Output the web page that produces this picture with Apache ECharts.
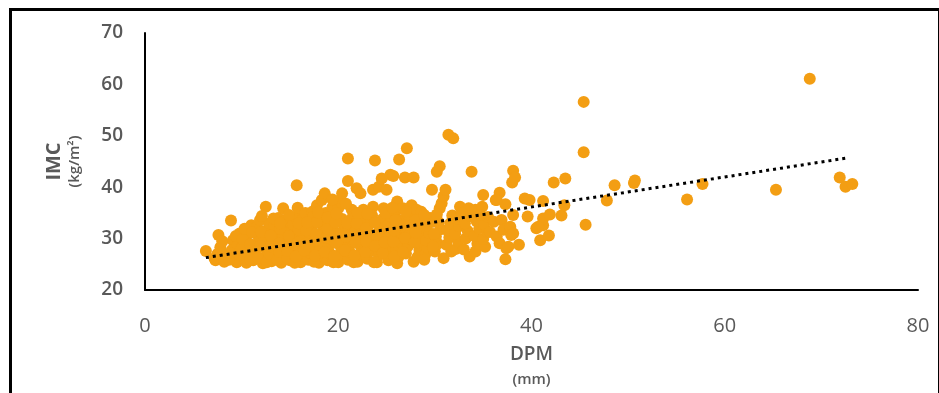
<!DOCTYPE html>
<html>
<head>
<meta charset="utf-8">
<script src="https://cdn.jsdelivr.net/npm/echarts@6/dist/echarts.min.js"></script>
<style>
  html, body { margin: 0; padding: 0; background: #fff; }
  #chart { width: 939px; height: 393px; }
</style>
</head>
<body>
<div id="chart"></div>
<script>
// DPM (mm) vs IMC (kg/m2)
var dpmImc = [
  // x 6-10
  [6.3,27.6],[7.3,25.8],[7.2,26.2],[7.5,27.0],[7.8,28.3],[7.6,30.7],[8.2,25.5],[8.4,26.8],[8.0,29.5],
  [8.9,33.5],[9.1,29.7],[9.0,27.8],[9.3,26.0],[9.5,25.4],[9.6,28.6],[9.8,31.0],
  [10.4,29.4],[10.2,26.5],[10.5,25.3],[10.8,27.6],[10.6,30.8],[11.0,32.6],[11.2,25.8],[11.5,28.8],
  [11.6,32.3],[11.9,33.6],[11.4,27.0],[11.8,30.0],
  // x 12-14
  [12.5,36.2],[12.2,25.2],[12.4,26.4],[12.6,27.8],[12.8,29.2],[12.3,30.6],[12.7,31.8],[12.9,33.0],
  [13.1,25.6],[13.3,26.9],[13.5,28.3],[13.2,29.8],[13.6,31.2],[13.4,32.6],[13.8,34.0],
  [14.3,35.9],[14.1,25.3],[14.2,26.6],[14.4,28.0],[14.6,29.4],[14.3,30.8],[14.8,32.2],[14.5,33.5],
  [15.0,25.8],[15.2,27.2],[15.4,28.6],[15.1,30.0],[15.5,31.4],[15.3,32.8],[15.6,34.2],[15.7,40.4],[15.8,36.0],
  // x 16-19
  [16.1,25.4],[16.3,26.7],[16.0,28.1],[16.4,29.5],[16.2,30.9],[16.5,32.3],[16.3,33.7],[16.6,35.0],
  [16.9,25.9],[17.0,27.3],[17.2,28.7],[17.1,30.1],[17.3,31.5],[17.0,32.9],[17.3,35.2],[17.4,34.2],[17.8,36.5],
  [18.0,25.3],[18.2,26.6],[18.1,28.0],[18.4,29.4],[18.2,30.8],[18.5,32.2],[18.3,33.6],[18.3,37.5],
  [18.6,38.8],[18.7,35.0],[18.9,25.8],[19.1,27.2],[19.0,28.6],[19.2,30.0],[19.0,31.4],[19.3,32.8],
  [19.1,34.2],[19.4,36.1],
  // x 20-23
  [20.0,35.9],[20.2,37.2],[20.4,38.8],[20.0,25.4],[20.1,26.8],[20.3,28.2],[20.5,29.6],[20.2,31.0],
  [20.6,32.4],[20.4,33.8],[21.0,25.9],[21.2,27.3],[21.1,28.7],[21.3,30.1],[21.0,31.5],[21.4,35.6],
  [21.2,32.9],[21.0,41.2],[21.0,45.6],[21.9,39.8],[21.5,34.2],
  [22.3,38.8],[22.6,35.6],[22.0,25.5],[22.2,26.9],[22.4,28.3],[22.1,29.7],[22.5,31.1],[22.3,32.5],
  [22.7,33.9],[23.0,26.1],[23.2,27.5],[23.1,28.9],[23.3,30.3],[23.0,31.7],[23.4,33.1],[23.6,36.2],
  [23.6,39.5],[23.8,45.2],[23.5,34.5],
  // x 24-27
  [24.2,40.1],[24.5,41.7],[24.7,35.9],[24.0,25.4],[24.2,26.8],[24.4,28.2],[24.1,29.6],[24.5,31.0],
  [24.3,32.4],[24.6,33.8],[25.0,39.5],[25.4,42.4],[25.7,42.2],[25.2,25.8],[25.0,27.2],[25.3,28.6],
  [25.1,30.0],[25.4,31.4],[25.2,32.8],[25.5,34.2],
  [26.1,35.6],[26.1,37.2],[26.3,45.4],[26.7,35.9],[26.9,41.9],[26.1,25.2],[26.3,26.6],[26.0,28.0],
  [26.4,29.4],[26.2,30.8],[26.5,32.2],[26.3,33.6],[27.1,47.6],[27.6,36.5],[27.8,41.9],[27.8,25.5],
  [27.0,27.1],[27.2,28.5],[27.4,30.0],[27.1,31.4],[27.5,32.8],[27.3,34.2],
  // x 28-31
  [28.1,35.6],[28.6,35.2],[28.2,26.4],[28.4,27.8],[28.1,29.2],[28.5,30.6],[28.3,32.0],[28.7,33.4],
  [29.0,26.9],[29.2,28.3],[29.1,29.7],[29.4,31.1],[29.2,32.5],[29.7,39.5],[29.5,34.0],
  [30.5,44.1],[30.2,43.0],[30.5,35.9],[30.7,36.9],[30.9,38.2],[31.1,39.5],[30.9,26.2],[30.0,27.5],
  [30.3,29.0],[30.1,30.4],[30.6,31.8],[30.4,33.2],[31.4,50.2],[31.9,49.5],[31.7,27.5],[31.2,28.8],
  [31.5,30.2],[31.3,31.6],[31.6,33.0],[31.8,34.5],
  // x 32-38
  [32.6,36.2],[32.2,28.0],[32.4,29.5],[32.1,31.0],[32.5,32.4],[32.3,33.8],[33.5,35.9],[33.6,26.5],
  [33.0,27.9],[33.2,30.0],[33.4,31.5],[33.1,33.0],[33.8,43.0],[33.7,34.4],
  [34.2,35.6],[34.9,36.2],[34.2,27.5],[34.4,29.0],[34.1,30.5],[34.6,32.0],[34.3,33.4],[35.0,38.5],
  [35.2,28.4],[35.0,29.9],[35.4,31.4],[35.1,32.8],[35.5,34.2],[35.7,31.3],[36.1,33.3],[36.3,37.5],
  [36.4,30.4],[36.7,38.9],[36.7,29.1],[36.9,33.6],[37.1,31.7],[37.3,36.7],[37.3,26.0],[37.4,28.1],
  [37.6,28.4],[37.8,32.0],[37.9,30.7],[37.8,32.3],[38.0,40.9],[38.1,43.2],[38.3,41.9],[38.1,34.6],
  [38.1,31.0],[38.7,28.8],[36.4,37.5],
  // x 39-44
  [39.3,37.8],[39.8,37.5],[39.6,34.3],[40.5,32.0],[40.9,29.7],[41.2,32.6],[41.2,33.9],[40.7,32.3],
  [41.8,30.6],[41.2,37.3],[41.9,34.7],[42.3,40.9],[43.1,34.5],[43.4,36.5],[43.5,41.7],
  // outliers
  [45.4,56.6],[45.4,46.8],[45.6,32.7],[47.8,37.4],[48.6,40.4],[50.6,40.8],[50.7,41.3],[56.1,37.6],
  [57.7,40.6],[65.3,39.5],[68.8,61.1],[71.9,41.9],[72.5,40.1],[73.2,40.6],
  // dense core, in between the points above
  [8.7,25.9],[8.8,27.2],[9.4,30.5],[9.9,26.9],[10.0,28.1],[10.1,29.9],[10.3,31.9],[10.9,25.9],
  [10.9,28.9],[11.1,31.2],[11.7,26.3],[11.9,28.5],[12.0,31.3],[12.1,34.4],[12.6,25.4],[12.9,27.0],
  [13.0,28.5],[13.0,30.6],[13.3,33.9],[13.7,25.9],[13.9,27.4],[13.9,29.1],[14.0,31.9],[14.0,33.0],
  [14.7,26.2],[14.7,27.6],[14.9,30.5],[14.9,34.6],[15.5,25.3],[15.6,26.5],[15.8,29.2],[15.9,31.7],
  [15.9,33.0],[16.5,27.7],[16.7,29.0],[16.7,31.6],[16.8,33.2],[17.5,25.5],[17.6,26.7],[17.6,29.6],
  [17.7,30.9],[17.8,33.2],[17.9,35.1],[18.6,27.4],[18.8,30.2],[18.9,31.9],[18.9,34.1],[19.5,25.4],
  [19.6,26.6],[19.7,29.2],[19.8,31.0],[19.7,33.1],[19.8,34.9],[20.7,27.7],[20.8,30.4],[20.9,33.0],
  [20.8,36.8],[21.6,25.4],[21.7,26.7],[21.8,29.2],[21.7,31.2],[21.9,33.0],[22.0,35.0],[22.8,27.4],
  [22.9,29.5],[22.9,32.0],[23.0,34.8],[23.7,25.4],[23.8,28.6],[23.9,30.8],[23.8,33.1],[24.6,27.2],
  [24.8,29.3],[24.9,32.3],[25.8,26.5],[25.7,29.4],[25.8,31.6],[25.9,33.6],[26.7,27.4],[26.9,30.1],
  [26.8,32.6],[27.9,29.3],[28.0,31.2],[28.0,33.6],[28.9,25.9],[29.8,28.4],[29.9,30.9],[29.9,33.3],
  [24.9,35.0],[25.6,36.0],[27.0,35.3],[28.9,34.6],[32.8,35.0],[34.7,34.6],[30.2,34.7],[19.4,37.6]
];

// linear trend line end points
var trendDpm = [6.3, 72.7];
var trendImc = [26.3, 45.7];

var xTicks = [0, 20, 40, 60, 80];
var yTicks = [20, 30, 40, 50, 60, 70];

var voChart = echarts.init(document.getElementById("chart"));

var vaTrend = trendDpm.map(function(x, i){
	return [x, trendImc[i]];
});

var voOption = {
	animation: false,
	backgroundColor: "#fff",
	grid: {
		left: 145,
		right: 21,
		top: 33,
		bottom: 103
	},
	xAxis: {
		type: "value",
		min: xTicks[0],
		max: xTicks[xTicks.length - 1],
		interval: 20,
		name: "{a|DPM}\n{b|(mm)}",
		nameLocation: "middle",
		nameGap: 52,
		nameTextStyle: {
			rich: {
				a: { fontFamily: "Open Sans", fontSize: 19, fontWeight: 600, color: "#595959", lineHeight: 26 },
				b: { fontFamily: "Open Sans", fontSize: 15, fontWeight: 600, color: "#595959", lineHeight: 24 }
			}
		},
		axisLine: { lineStyle: { color: "#000", width: 2 } },
		axisTick: { show: false },
		splitLine: { show: false },
		axisLabel: {
			margin: 26,
			fontFamily: "Open Sans",
			fontSize: 20,
			color: "#595959"
		}
	},
	yAxis: {
		type: "value",
		min: yTicks[0],
		max: yTicks[yTicks.length - 1],
		interval: 10,
		name: "{a|IMC}\n{b|(kg/m²)}",
		nameLocation: "middle",
		nameRotate: 90,
		nameGap: 60,
		nameTextStyle: {
			rich: {
				a: { fontFamily: "Open Sans", fontSize: 20, fontWeight: 700, color: "#595959", lineHeight: 22 },
				b: { fontFamily: "Open Sans", fontSize: 15, fontWeight: 600, color: "#595959", lineHeight: 20 }
			}
		},
		axisLine: { show: true, lineStyle: { color: "#000", width: 2 } },
		axisTick: { show: false },
		splitLine: { show: false },
		axisLabel: {
			margin: 22,
			fontFamily: "Open Sans",
			fontSize: 19,
			fontWeight: 600,
			color: "#595959"
		}
	},
	graphic: [{
		type: "rect",
		left: 8,
		top: 7,
		shape: { width: 929, height: 420 },
		style: { fill: "none", stroke: "#000", lineWidth: 3 },
		silent: true
	}],
	series: [
		{
			name: "IMC",
			type: "scatter",
			symbolSize: 12,
			itemStyle: { color: "#F39E13", opacity: 1 },
			data: dpmImc
		},
		{
			name: "trend",
			type: "line",
			symbol: "none",
			lineStyle: { color: "#000", width: 3, type: [3, 4] },
			data: vaTrend,
			z: 3
		}
	]
};

voChart.setOption(voOption);

window.addEventListener("resize", function(){
	voChart.resize();
});
</script>
</body>
</html>
